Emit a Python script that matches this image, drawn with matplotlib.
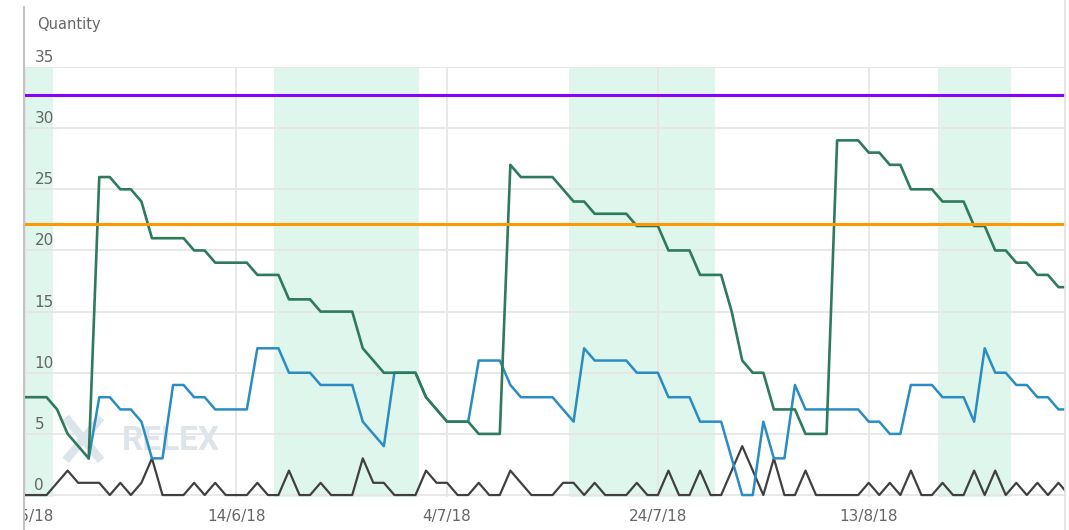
import numpy as np
import matplotlib
matplotlib.use('Agg')
import matplotlib.pyplot as plt
from matplotlib.lines import Line2D
from matplotlib.transforms import Bbox, TransformedBbox

# daily values, first day 25/5/18
stock = [8, 8, 8, 7, 5, 4, 3, 26, 26, 25, 25, 24, 21, 21, 21, 21, 20, 20, 19, 19,
         19, 19, 18, 18, 18, 16, 16, 16, 15, 15, 15, 15, 12, 11, 10, 10, 10, 10, 8, 7,
         6, 6, 6, 5, 5, 5, 27, 26, 26, 26, 26, 25, 24, 24, 23, 23, 23, 23, 22, 22,
         22, 20, 20, 20, 18, 18, 18, 15, 11, 10, 10, 7, 7, 7, 5, 5, 5, 29, 29, 29,
         28, 28, 27, 27, 25, 25, 25, 24, 24, 24, 22, 22, 20, 20, 19, 19, 18, 18, 17, 17]
nan = np.nan
projected = [nan, nan, nan, nan, nan, nan, 3, 8, 8, 7, 7, 6, 3, 3, 9, 9, 8, 8, 7, 7,
             7, 7, 12, 12, 12, 10, 10, 10, 9, 9, 9, 9, 6, 5, 4, 10, 10, 10, 8, 7,
             6, 6, 6, 11, 11, 11, 9, 8, 8, 8, 8, 7, 6, 12, 11, 11, 11, 11, 10, 10,
             10, 8, 8, 8, 6, 6, 6, 3, 0, 0, 6, 3, 3, 9, 7, 7, 7, 7, 7, 7,
             6, 6, 5, 5, 9, 9, 9, 8, 8, 8, 6, 12, 10, 10, 9, 9, 8, 8, 7, 7]
sales = [0, 0, 0, 1, 2, 1, 1, 1, 0, 1, 0, 1, 3, 0, 0, 0, 1, 0, 1, 0,
         0, 0, 1, 0, 0, 2, 0, 0, 1, 0, 0, 0, 3, 1, 1, 0, 0, 0, 2, 1,
         1, 0, 0, 1, 0, 0, 2, 1, 0, 0, 0, 1, 1, 0, 1, 0, 0, 0, 1, 0,
         0, 2, 0, 0, 2, 0, 0, 2, 4, 2, 0, 3, 0, 0, 2, 0, 0, 0, 0, 0,
         1, 0, 1, 0, 2, 0, 0, 1, 0, 0, 2, 0, 2, 0, 1, 0, 1, 0, 1, 0]
max_level = 32.7
order_level = 22.2

# shaded periods (day index)
band_start = [-1.0, 23.55, 51.55, 86.55]
band_end = [2.6, 37.3, 65.4, 93.45]

tick_days = [0, 20, 40, 60, 80]
tick_labels = ['25/5/18', '14/6/18', '4/7/18', '24/7/18', '13/8/18']
y_ticks = [0, 5, 10, 15, 20, 25, 30, 35]

days = np.arange(len(stock))

W, H = 1069, 530
fig = plt.figure(figsize=(W / 100, H / 100), dpi=100)
ax_l, ax_r, ax_t, ax_b = 24, 1065, 67, 497
ax = fig.add_axes([ax_l / W, (H - ax_b) / H, (ax_r - ax_l) / W, (ax_b - ax_t) / H])
ax.patch.set_alpha(0)

for s, e in zip(band_start, band_end):
    ax.axvspan(s, e, color='#def6eb', lw=0, zorder=0)

ax.plot(days, sales, color='#404040', lw=1.6, zorder=2)
ax.plot(days, projected, color='#2b8cc4', lw=1.8, zorder=3)
ax.plot(days, stock, color='#2e7a5c', lw=1.9, zorder=4)
ax.axhline(max_level, color='#8a00ff', lw=2.2, zorder=5)
ax.axhline(order_level, color='#ff9900', lw=2.2, zorder=5)

ax.set_xlim(-0.14, 98.62)
ax.set_ylim(-0.16, 35)
for sp in ax.spines.values():
    sp.set_visible(False)

ax.set_yticks(y_ticks)
ax.set_xticks(tick_days)
ax.set_xticklabels(tick_labels)
ax.grid(True, color='#e6e6e6', lw=1.3)
ax.tick_params(axis='both', length=0, colors='#666666', labelsize=11)
ax.tick_params(axis='x', pad=9)
ax.tick_params(axis='y', labelleft=False)

# first date label is cut at the left edge of the plot
clip = TransformedBbox(Bbox.from_extents(ax_l / W, 0, 1, 1), fig.transFigure)
for lab in ax.get_xticklabels():
    lab.set_clip_box(clip)
    lab.set_clip_on(True)

# y labels sit above their grid lines
for v in y_ticks:
    ax.annotate(str(v), xy=(0, v), xycoords=('axes fraction', 'data'),
                xytext=(7.5, 3.6), textcoords='offset points', va='baseline',
                ha='left', color='#666666', fontsize=11, annotation_clip=False)

fig.text(37 / W, 1 - 25 / H, 'Quantity', color='#666666', fontsize=10.5,
         va='center', ha='left')

# watermark
ax.text(0.094, 0.13, 'RELEX', transform=ax.transAxes, fontsize=24, family='Roboto',
        weight='bold', color='#dde4ea', va='center', ha='left', zorder=1.6)
ax.plot([0.040, 0.074], [0.185, 0.085], transform=ax.transAxes, color='#dde4ea',
        lw=6, solid_capstyle='butt', zorder=1.6)
ax.plot([0.074, 0.040], [0.185, 0.085], transform=ax.transAxes, color='#dde4ea',
        lw=6, solid_capstyle='butt', zorder=1.6)

# frame lines of the widget
fig.add_artist(Line2D([ax_l / W, ax_l / W], [0, 1 - 7 / H], color='#c4c4c4', lw=1.5))
fig.add_artist(Line2D([ax_r / W, ax_r / W], [0, 1], color='#e2e2e2', lw=1.2))

fig.savefig('out.png', dpi=100)
